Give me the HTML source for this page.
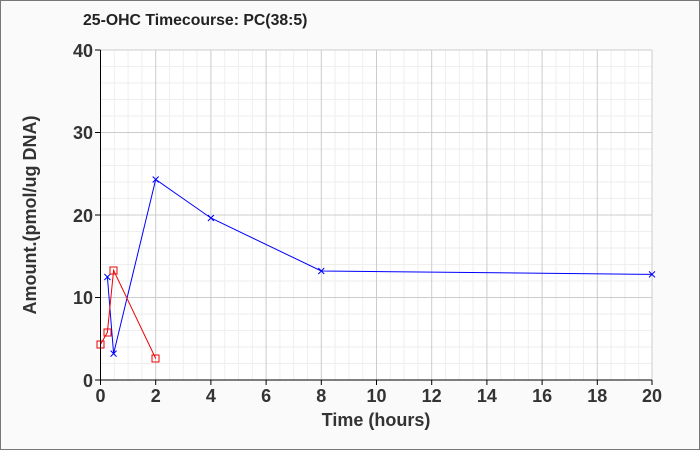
<!DOCTYPE html><html><head><style>body{margin:0}svg{display:block}</style></head><body>
<svg width="700" height="450" xmlns="http://www.w3.org/2000/svg" font-family="Liberation Sans, sans-serif">
<rect x="0.5" y="0.5" width="699" height="449" fill="#fafafa" stroke="#777"/>
<text x="83" y="25" font-size="15.8" font-weight="bold" fill="#222">25-OHC Timecourse: PC(38:5)</text>
<rect x="100.5" y="50" width="551" height="330" fill="#fff"/>
<path stroke="#eee" fill="none" d="M114.3,50V380M128.1,50V380M141.9,50V380M169.5,50V380M183.3,50V380M197.1,50V380M224.7,50V380M238.5,50V380M252.3,50V380M279.9,50V380M293.7,50V380M307.5,50V380M335.1,50V380M348.9,50V380M362.7,50V380M390.3,50V380M404.1,50V380M417.9,50V380M445.5,50V380M459.3,50V380M473.1,50V380M500.7,50V380M514.5,50V380M528.3,50V380M555.9,50V380M569.7,50V380M583.5,50V380M611.1,50V380M624.9,50V380M638.7,50V380M100.5,66.5H652M100.5,83H652M100.5,99.5H652M100.5,116H652M100.5,149H652M100.5,165.5H652M100.5,182H652M100.5,198.5H652M100.5,231.5H652M100.5,248H652M100.5,264.5H652M100.5,281H652M100.5,314H652M100.5,330.5H652M100.5,347H652M100.5,363.5H652"/>
<path stroke="#ccc" fill="none" d="M155.7,50V380M210.9,50V380M266.1,50V380M321.3,50V380M376.5,50V380M431.7,50V380M486.9,50V380M542.1,50V380M597.3,50V380M652,50V380M100.5,50H652M100.5,132.5H652M100.5,215H652M100.5,297.5H652"/>
<polyline fill="none" stroke="#00f" points="107.4,277 113.6,353.6 155.7,179.5 210.9,218 321.3,271 652,274.4"/>
<polyline fill="none" stroke="#e00" points="100.5,344.5 107.4,332.2 113.6,270.3 155.7,358.5"/>
<g stroke="#00f" stroke-width="1"><path d="M104.4,274l6,6m0,-6l-6,6M110.6,350.6l6,6m0,-6l-6,6M152.7,176.5l6,6m0,-6l-6,6M207.9,215l6,6m0,-6l-6,6M318.3,268l6,6m0,-6l-6,6M649,271.4l6,6m0,-6l-6,6"/></g>
<g fill="none" stroke="#e00"><rect x="97" y="341" width="7" height="7"/><rect x="104" y="329" width="7" height="7"/><rect x="110" y="267" width="7" height="7"/><rect x="152" y="355" width="7" height="7"/></g>
<path d="M100.5,50V380H652M95,50h5.5M95,132.5h5.5M95,215h5.5M95,297.5h5.5M95,380h5.5M100.5,380v5M155.7,380v5M210.9,380v5M266.1,380v5M321.3,380v5M376.5,380v5M431.7,380v5M486.9,380v5M542.1,380v5M597.3,380v5M652,380v5" stroke="#000" fill="none"/>
<g font-size="18" font-weight="bold" fill="#333" text-anchor="end"><text x="93" y="57">40</text><text x="93" y="139">30</text><text x="93" y="222">20</text><text x="93" y="304">10</text><text x="93" y="387">0</text></g>
<g font-size="18" font-weight="bold" fill="#333" text-anchor="middle"><text x="100.5" y="402">0</text><text x="155.7" y="402">2</text><text x="210.9" y="402">4</text><text x="266.1" y="402">6</text><text x="321.3" y="402">8</text><text x="376.5" y="402">10</text><text x="431.7" y="402">12</text><text x="486.9" y="402">14</text><text x="542.1" y="402">16</text><text x="597.3" y="402">18</text><text x="652" y="402">20</text></g>
<text x="376" y="426" font-size="18" font-weight="bold" fill="#333" text-anchor="middle">Time (hours)</text>
<text transform="translate(36,215) rotate(-90)" font-size="18" font-weight="bold" fill="#333" text-anchor="middle">Amount.(pmol/ug DNA)</text>
</svg></body></html>
